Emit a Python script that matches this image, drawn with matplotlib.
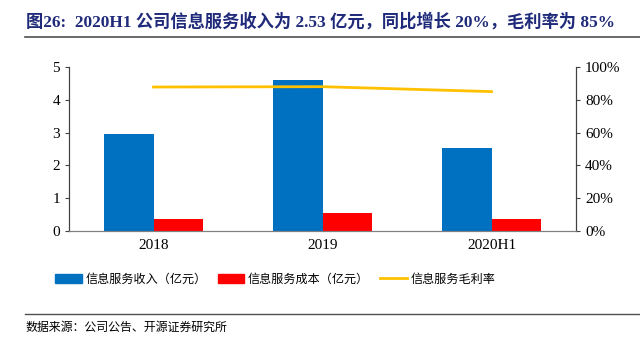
import numpy as np
import matplotlib.pyplot as plt
from matplotlib.lines import Line2D

# 数据
categories = ['2018', '2019', '2020H1']
revenue = [2.96, 4.60, 2.53]      # 信息服务收入（亿元）
cost = [0.37, 0.55, 0.38]         # 信息服务成本（亿元）
margin = [0.878, 0.880, 0.850]    # 信息服务毛利率

fonts = ['Liberation Serif', 'Noto Sans CJK SC']
plt.rcParams['font.family'] = fonts

fig = plt.figure(figsize=(6.4, 3.44), dpi=100)
ax = fig.add_axes([69 / 640, 1 - 231 / 344, 507 / 640, 164 / 344])
ax2 = ax.twinx()

x = np.arange(len(categories))
w = 0.29
ax.bar(x - w / 2, revenue, w, color='#0070C0', label='信息服务收入（亿元）')
ax.bar(x + w / 2, cost, w, color='#FF0000', label='信息服务成本（亿元）')
ax2.plot(x, margin, color='#FFC000', lw=2, label='信息服务毛利率')

ax.set_xlim(-0.5, 2.5)
ax.set_ylim(0, 5)
ax2.set_ylim(0, 1)
ax.set_xticks(x)
ax.set_xticklabels(categories)
ax.set_yticks(range(6))
ax2.set_yticks(np.linspace(0, 1, 6))
ax2.set_yticklabels([f'{int(v * 100)}%' for v in np.linspace(0, 1, 6)])

for a in (ax, ax2):
    a.spines['top'].set_visible(False)
    a.spines['left'].set_color('#404040')
    a.spines['right'].set_color('#404040')
    a.spines['bottom'].set_color('#808080')
    a.tick_params(labelsize=11, colors='#000000', length=3, width=0.8)
ax.tick_params(axis='x', length=0, pad=6)
ax.tick_params(axis='y', color='#404040')
ax2.tick_params(axis='y', color='#404040')

# 图例
handles = [
    plt.Rectangle((0, 0), 1, 1, color='#0070C0'),
    plt.Rectangle((0, 0), 1, 1, color='#FF0000'),
    Line2D([0], [0], color='#FFC000', lw=2),
]
labels = ['信息服务收入（亿元）', '信息服务成本（亿元）', '信息服务毛利率']
fig.legend(handles, labels, loc='center', bbox_to_anchor=(0.43, 1 - 279 / 344),
           ncol=3, frameon=False, prop={'family': 'Noto Sans CJK SC', 'size': 8.7},
           handlelength=2.2, handleheight=0.7, columnspacing=0.9, handletextpad=0.3)

# 标题与注释
fig.text(26 / 640, 1 - 22 / 344, '图26:  2020H1 公司信息服务收入为 2.53 亿元，同比增长 20%，毛利率为 85%',
         fontsize=12.4, fontweight='bold', color='#1F2A7A', va='center', family=fonts)
fig.add_artist(Line2D([25 / 640, 1], [1 - 37 / 344] * 2, color='#505050', lw=1.2))
fig.add_artist(Line2D([25 / 640, 1], [1 - 314 / 344] * 2, color='#505050', lw=1.0))
fig.text(26 / 640, 1 - 327 / 344, '数据来源：公司公告、开源证券研究所', fontsize=8.6,
         color='#000000', va='center', family=['Noto Sans CJK SC'])

fig.savefig('out.png', dpi=100)
